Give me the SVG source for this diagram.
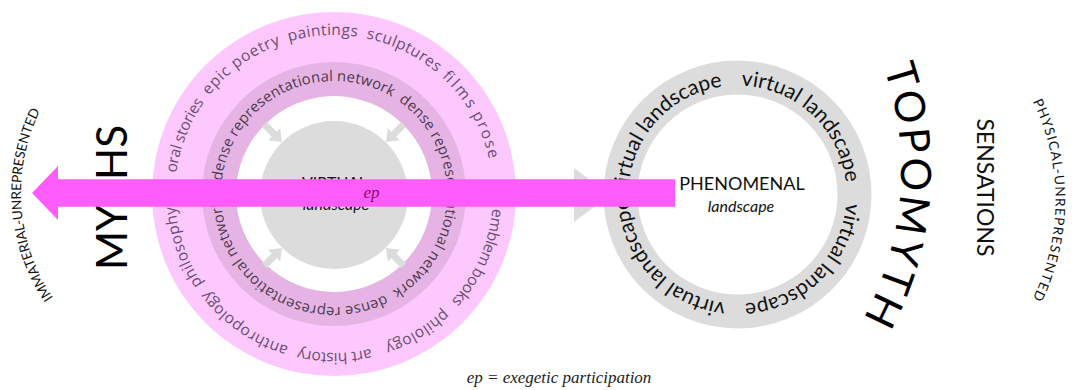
<svg xmlns="http://www.w3.org/2000/svg" xmlns:xlink="http://www.w3.org/1999/xlink" width="1073" height="390" viewBox="0 0 1073 390">
  <style>
    .sans { font-family: Lato, "Liberation Sans", sans-serif; }
    .ring { font-family: "Open Sans", "DejaVu Sans", sans-serif; }
    .ser { font-family: "Liberation Serif", "DejaVu Serif", serif; font-style: italic; }
    .outer { font-size: 15.5px; fill: #6a4e72; }
    .dense { font-size: 14.8px; fill: #4b3a4f; }
    .vland { font-size: 21px; fill: #111; }
    .big { font-size: 42px; fill: #000; }
    .pole { font-size: 13.5px; fill: #111; }
    .grey { fill: #dcdcdc; }
  </style>
  <defs>
    <!-- outer pink ring text circle: r 159, starts at 9 o'clock, clockwise -->
    <path id="outerPath" d="M175,194 A159,159 0 1 1 493,194 A159,159 0 1 1 175,194"/>
    <!-- dense ring text circle: r 113, starts at 9 o'clock, clockwise -->
    <path id="densePath" d="M221,194 A113,113 0 1 1 447,194 A113,113 0 1 1 221,194"/>
    <!-- grey ring text circle: r 109, starts at 12 o'clock, clockwise -->
    <path id="vlandPath" d="M737.5,85.5 A109,109 0 1 1 737.5,303.5 A109,109 0 1 1 737.5,85.5"/>
    <!-- side arcs -->
    <path id="immPath" d="M64.5,312.6 A186,186 0 0 1 49.3,94.4"/>
    <path id="physPath" d="M1003,55.7 A224.5,224.5 0 0 1 1003,344.3"/>
    <path id="topoPath" d="M859.7,15 A311,311 0 0 1 829,369"/>
    <polygon id="smallArrow" points="0,-3.5 14,-3.5 14,-8.5 25,0 14,8.5 14,3.5 0,3.5"/>
  </defs>

  <rect width="1073" height="390" fill="#ffffff"/>

  <!-- left pole -->
  <g id="immaterial">
    <text class="sans pole"><textPath xlink:href="#immPath" href="#immPath" startOffset="50%" text-anchor="middle"><tspan textLength="196" lengthAdjust="spacing">IMMATERIAL-UNREPRESENTED</tspan></textPath></text>
  </g>
  <g id="myths">
    <text class="sans big" transform="translate(127,197.5) rotate(-90)" text-anchor="middle">MYTHS</text>
  </g>

  <!-- virtual landscape: representation rings around a grey core -->
  <g id="virtual-landscape">
    <circle cx="334" cy="194" r="182" fill="#fdc8fd"/>
    <circle cx="334" cy="194" r="132" fill="#e6b4e4"/>
    <circle cx="334" cy="194" r="98" fill="#ffffff"/>
    <circle cx="334" cy="195" r="74" class="grey"/>
    <text class="ring outer"><textPath xlink:href="#outerPath" href="#outerPath" startOffset="21"><tspan textLength="77" lengthAdjust="spacing">oral stories</tspan></textPath></text>
    <text class="ring outer"><textPath xlink:href="#outerPath" href="#outerPath" startOffset="106"><tspan textLength="89" lengthAdjust="spacing">epic poetry</tspan></textPath></text>
    <text class="ring outer"><textPath xlink:href="#outerPath" href="#outerPath" startOffset="204"><tspan textLength="69" lengthAdjust="spacing">paintings</tspan></textPath></text>
    <text class="ring outer"><textPath xlink:href="#outerPath" href="#outerPath" startOffset="282"><tspan textLength="79" lengthAdjust="spacing">sculptures</tspan></textPath></text>
    <text class="ring outer"><textPath xlink:href="#outerPath" href="#outerPath" startOffset="368"><tspan textLength="42" lengthAdjust="spacing">films</tspan></textPath></text>
    <text class="ring outer"><textPath xlink:href="#outerPath" href="#outerPath" startOffset="416"><tspan textLength="48" lengthAdjust="spacing">prose</tspan></textPath></text>
    <text class="ring outer"><textPath xlink:href="#outerPath" href="#outerPath" startOffset="514"><tspan textLength="103" lengthAdjust="spacing">emblem books</tspan></textPath></text>
    <text class="ring outer"><textPath xlink:href="#outerPath" href="#outerPath" startOffset="628"><tspan textLength="69" lengthAdjust="spacing">philology</tspan></textPath></text>
    <text class="ring outer"><textPath xlink:href="#outerPath" href="#outerPath" startOffset="712"><tspan textLength="73" lengthAdjust="spacing">art history</tspan></textPath></text>
    <text class="ring outer"><textPath xlink:href="#outerPath" href="#outerPath" startOffset="795"><tspan textLength="100" lengthAdjust="spacing">anthropology</tspan></textPath></text>
    <text class="ring outer"><textPath xlink:href="#outerPath" href="#outerPath" startOffset="903"><tspan textLength="83" lengthAdjust="spacing">philosophy</tspan></textPath></text>
    <text class="ring dense"><textPath xlink:href="#densePath" href="#densePath" startOffset="13"><tspan textLength="225" lengthAdjust="spacing">dense representational network</tspan></textPath></text>
    <text class="ring dense"><textPath xlink:href="#densePath" href="#densePath" startOffset="246"><tspan textLength="225" lengthAdjust="spacing">dense representational network</tspan></textPath></text>
    <text class="ring dense"><textPath xlink:href="#densePath" href="#densePath" startOffset="479"><tspan textLength="225" lengthAdjust="spacing">dense representational network</tspan></textPath></text>
    <text class="sans" x="334.5" y="188" text-anchor="middle" font-size="16" fill="#111">VIRTUAL</text>
    <text class="sans" x="336" y="210" text-anchor="middle" font-size="16" font-style="italic" fill="#111">landscape</text>
  </g>

  <!-- phenomenal landscape inside a ring of virtual landscapes -->
  <g id="phenomenal-landscape">
    <circle cx="737.5" cy="194.5" r="117" fill="none" stroke="#dcdcdc" stroke-width="34"/>
    <text class="sans vland"><textPath xlink:href="#vlandPath" href="#vlandPath" startOffset="4"><tspan textLength="155" lengthAdjust="spacing">virtual landscape</tspan></textPath></text>
    <text class="sans vland"><textPath xlink:href="#vlandPath" href="#vlandPath" startOffset="180"><tspan textLength="155" lengthAdjust="spacing">virtual landscape</tspan></textPath></text>
    <text class="sans vland"><textPath xlink:href="#vlandPath" href="#vlandPath" startOffset="354"><tspan textLength="155" lengthAdjust="spacing">virtual landscape</tspan></textPath></text>
    <text class="sans vland"><textPath xlink:href="#vlandPath" href="#vlandPath" startOffset="514"><tspan textLength="155" lengthAdjust="spacing">virtual landscape</tspan></textPath></text>
    <text class="sans" x="742" y="190" text-anchor="middle" font-size="18" fill="#111">PHENOMENAL</text>
    <text class="sans" x="741" y="212" text-anchor="middle" font-size="16" font-style="italic" fill="#111">landscape</text>
  </g>

  <!-- right poles -->
  <g id="topomyth">
    <text class="sans big"><textPath xlink:href="#topoPath" href="#topoPath" startOffset="50%" text-anchor="middle" letter-spacing="3">TOPOMYTH</textPath></text>
  </g>
  <g id="sensations">
    <text class="sans" font-size="23" fill="#111" transform="translate(977,187.5) rotate(90)" text-anchor="middle">SENSATIONS</text>
  </g>
  <g id="physical">
    <text class="sans pole"><textPath xlink:href="#physPath" href="#physPath" startOffset="50%" text-anchor="middle"><tspan textLength="204" lengthAdjust="spacing">PHYSICAL-UNREPRESENTED</tspan></textPath></text>
  </g>

  <!-- connectors -->
  <g id="connectors">
    <use href="#smallArrow" xlink:href="#smallArrow" class="grey" transform="translate(264.3,124.3) rotate(45)"/>
    <use href="#smallArrow" xlink:href="#smallArrow" class="grey" transform="translate(403.7,124.3) rotate(135)"/>
    <use href="#smallArrow" xlink:href="#smallArrow" class="grey" transform="translate(264.3,265.7) rotate(-45)"/>
    <use href="#smallArrow" xlink:href="#smallArrow" class="grey" transform="translate(403.7,265.7) rotate(-135)"/>
    <polygon class="grey" points="574,168 610,195 574,222"/>
    <polygon fill="#ff5cfb" points="32,193 58,166 58,179.3 675,179.3 675,206.7 58,206.7 58,220"/>
    <text class="ser" x="371.5" y="198" text-anchor="middle" font-size="17" fill="#7a107a">ep</text>
  </g>

  <text class="ser" x="559" y="383" text-anchor="middle" font-size="17" fill="#222">ep = exegetic participation</text>
</svg>
